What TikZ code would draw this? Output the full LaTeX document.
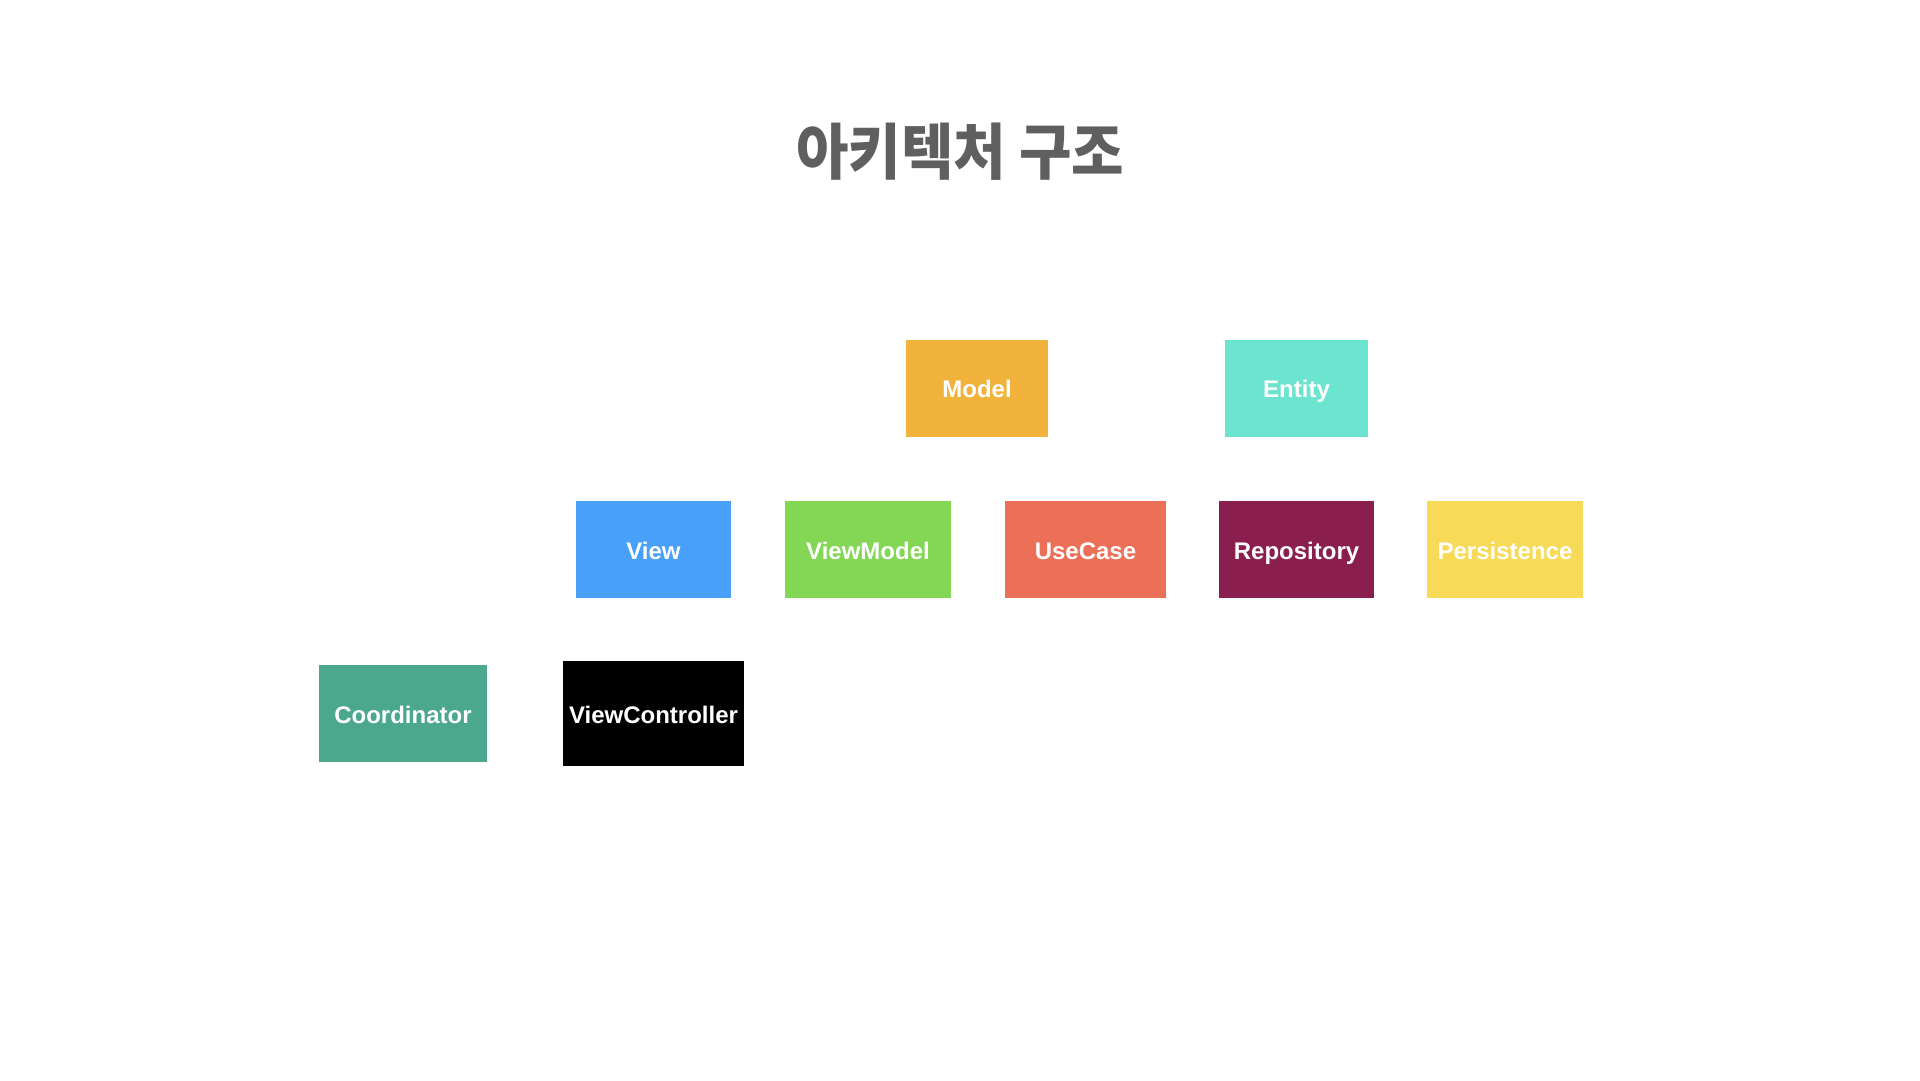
\documentclass[tikz,border=0pt]{standalone}
\usepackage{fontspec}
\setmainfont{Liberation Sans}
\newfontfamily\krfont{Noto Sans CJK KR}[FakeStretch=0.935]
\usetikzlibrary{positioning}
\definecolor{modelc}{HTML}{F2B33D}
\definecolor{entityc}{HTML}{6CE4CF}
\definecolor{viewc}{HTML}{48A0F8}
\definecolor{vmc}{HTML}{84D655}
\definecolor{usecasec}{HTML}{EC6F57}
\definecolor{repoc}{HTML}{8A1E4F}
\definecolor{persistc}{HTML}{F8DA59}
\definecolor{coordc}{HTML}{4BA88D}
\definecolor{titlec}{HTML}{5F5F5F}

\begin{document}
\begin{tikzpicture}[x=1pt, y=-1pt,
  layer/.style={fill=#1, text=white, inner sep=0pt, minimum height=97pt, text height=19pt, text depth=0pt, font=\fontsize{24}{28}\selectfont\bfseries}]
\useasboundingbox (0,0) rectangle (1920,1080);
\node[text=titlec, font=\krfont\fontsize{61}{68}\selectfont\bfseries] (title) at (960,152) {아키텍처 구조};
\node[layer=modelc, minimum width=142pt] (model) at (977,388) {Model};
\node[layer=entityc, minimum width=143pt] (entity) at (1296.5,388) {Entity};
\node[layer=viewc, minimum width=155pt] (view) at (653.5,549.5) {View};
\node[layer=vmc, minimum width=166pt] (viewmodel) at (868,549.5) {ViewModel};
\node[layer=usecasec, minimum width=161pt] (usecase) at (1085.5,549.5) {UseCase};
\node[layer=repoc, minimum width=155pt] (repository) at (1296.5,549.5) {Repository};
\node[layer=persistc, minimum width=156pt] (persistence) at (1505,549.5) {Persistence};
\node[layer=coordc, minimum width=168pt] (coordinator) at (403,713.5) {Coordinator};
\node[layer=black, minimum width=181pt, minimum height=105pt] (viewcontroller) at (653.5,713.5) {ViewController};
\end{tikzpicture}
\end{document}
